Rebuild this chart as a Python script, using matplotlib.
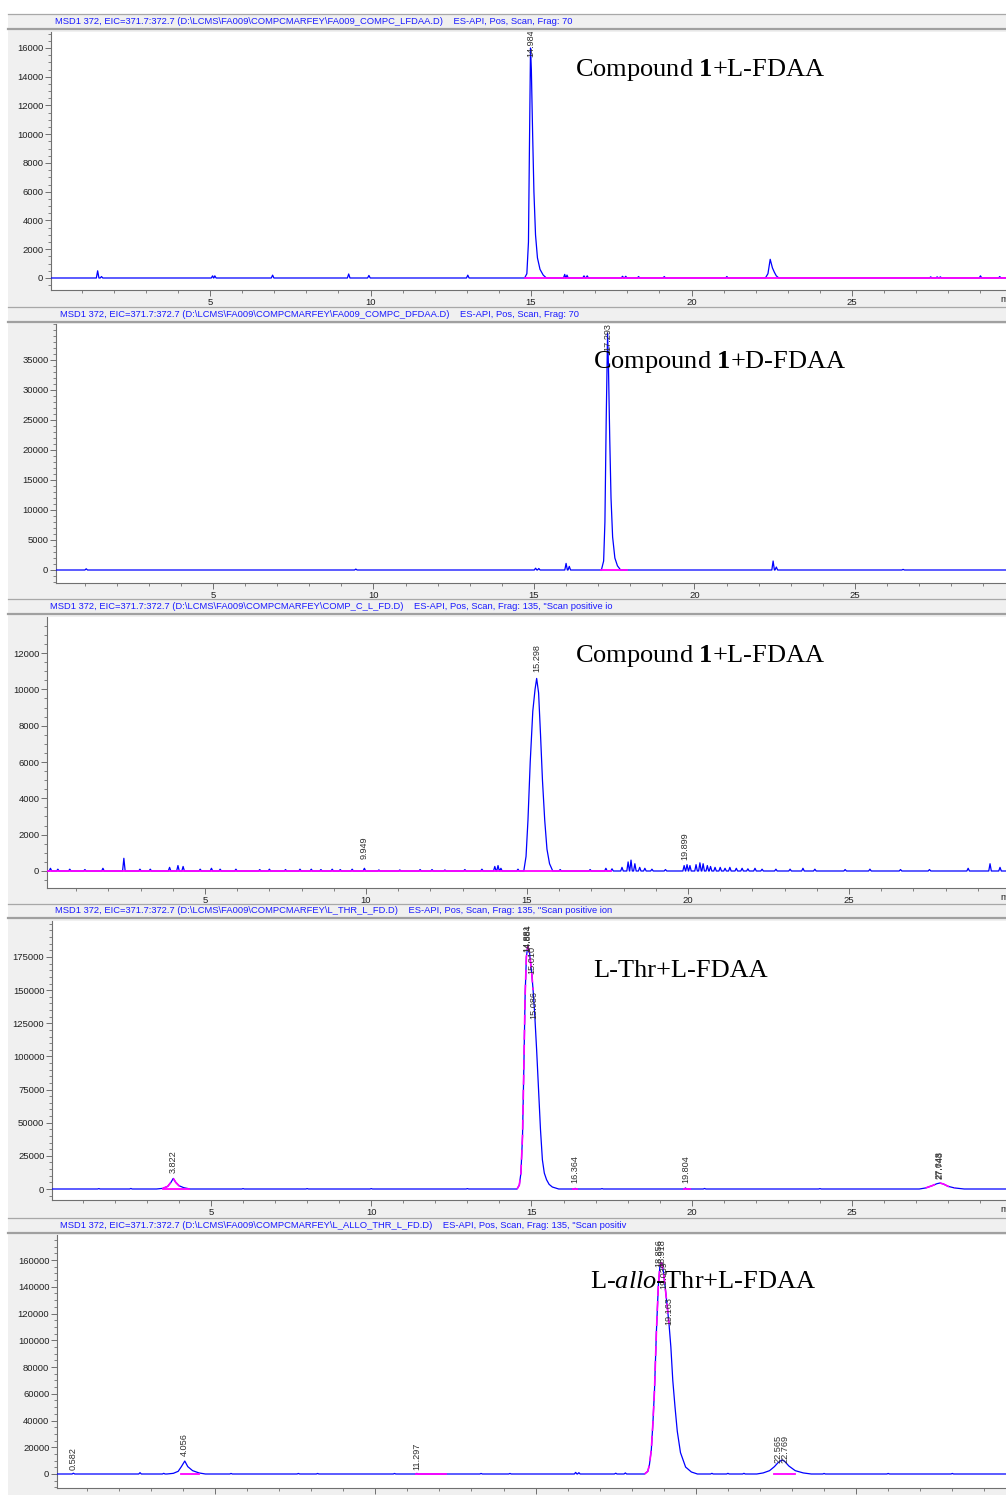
import matplotlib
matplotlib.use("Agg")
import matplotlib.pyplot as plt
from matplotlib.patches import Rectangle
from matplotlib.lines import Line2D
from matplotlib.ticker import MultipleLocator

plt.rcParams['font.family'] = ['Liberation Sans', 'DejaVu Sans']
plt.rcParams['mathtext.fontset'] = 'custom'
plt.rcParams['mathtext.rm'] = 'Liberation Serif'
plt.rcParams['mathtext.bf'] = 'Liberation Serif:bold'
plt.rcParams['mathtext.it'] = 'Liberation Serif:italic'

W, H = 1006, 1495

# ---------------- data ----------------
# panel 1 : compound 1 + L-FDAA
p1_peak_t = [14.80, 14.87, 14.92, 14.95, 14.984, 15.01, 15.05, 15.09, 15.14, 15.20, 15.28, 15.38, 15.48]
p1_peak_y = [0, 300, 2500, 9000, 16000, 14500, 10000, 6000, 3000, 1400, 600, 200, 0]
p1_small_t = [22.30, 22.38, 22.45, 22.52, 22.58, 22.64, 22.72]
p1_small_y = [0, 300, 1300, 700, 400, 150, 0]
p1_spike_t = [1.50, 1.62, 5.08, 5.15, 6.95, 9.32, 9.95, 13.03, 16.05, 16.12, 16.65, 16.75,
              17.85, 17.95, 18.35, 19.15, 21.10, 27.45, 27.65, 27.75, 29.0, 29.6]
p1_spike_h = [500, 100, 150, 150, 200, 280, 180, 200, 250, 200, 150, 150,
              120, 120, 100, 100, 100, 80, 80, 80, 150, 100]
p1_yticks = [0, 2000, 4000, 6000, 8000, 10000, 12000, 14000, 16000]
p1_labels = ["14.984"]
p1_label_t = [14.984]
p1_label_y = [16300]

# panel 2 : compound 1 + D-FDAA
p2_peak_t = [17.10, 17.17, 17.21, 17.25, 17.293, 17.32, 17.36, 17.40, 17.45, 17.52, 17.60, 17.70]
p2_peak_y = [0, 1500, 8000, 25000, 39500, 34000, 22000, 12000, 5500, 2000, 700, 0]
p2_spike_t = [1.05, 9.45, 15.05, 15.15, 16.00, 16.10, 22.45, 22.55, 26.5]
p2_spike_h = [200, 150, 300, 250, 1100, 600, 1500, 500, 100]
p2_yticks = [0, 5000, 10000, 15000, 20000, 25000, 30000, 35000]
p2_labels = ["17.293"]
p2_label_t = [17.293]
p2_label_y = [38800]

# panel 3 : compound 1 + L-FDAA (second run)
p3_peak_t = [14.90, 14.97, 15.03, 15.10, 15.18, 15.25, 15.30, 15.36, 15.42, 15.48, 15.55, 15.62, 15.70, 15.80]
p3_peak_y = [0, 800, 2800, 6000, 8800, 10000, 10600, 9800, 7500, 5000, 2800, 1200, 400, 0]
p3_spike_t = [0.20, 0.43, 0.80, 1.27, 1.83, 2.48, 2.98, 3.30, 3.90, 4.16, 4.32, 4.85, 5.20, 5.47,
              5.96, 6.70, 7.00, 7.50, 7.95, 8.30, 8.60, 8.95, 9.20, 9.57, 9.95, 10.40, 11.05,
              11.68, 12.05, 12.45, 13.07, 13.60, 14.00, 14.10, 14.19, 14.72,
              16.03, 16.96, 17.45, 17.64, 17.95, 18.14, 18.23, 18.35, 18.50, 18.66, 18.88, 19.30,
              19.88, 19.97, 20.06, 20.25, 20.37, 20.47, 20.60, 20.70, 20.84, 21.00, 21.15, 21.30,
              21.50, 21.68, 21.86, 22.08, 22.30, 22.73, 23.17, 23.57, 23.94, 24.88, 25.65, 26.60,
              27.50, 28.70, 29.38, 29.69]
p3_spike_h = [150, 100, 100, 80, 150, 700, 100, 100, 200, 300, 250, 100, 150, 100,
              100, 80, 100, 80, 100, 100, 80, 100, 80, 100, 150, 60, 60,
              80, 80, 60, 80, 100, 250, 300, 150, 100,
              80, 80, 150, 120, 200, 500, 600, 400, 200, 150, 100, 80,
              300, 350, 300, 350, 450, 400, 300, 250, 200, 200, 150, 200,
              150, 150, 120, 150, 100, 100, 100, 150, 100, 80, 100, 80,
              80, 150, 400, 200]
p3_yticks = [0, 2000, 4000, 6000, 8000, 10000, 12000]
p3_labels = ["9.949", "15.298", "19.899"]
p3_label_t = [9.949, 15.298, 19.899]
p3_label_y = [1265, 11720, 1380]

# panel 4 : L-Thr + L-FDAA
p4_peak_t = [14.55, 14.62, 14.67, 14.72, 14.76, 14.80, 14.84, 14.884, 14.94, 15.01, 15.05, 15.10,
             15.16, 15.22, 15.28, 15.34, 15.40, 15.47, 15.55, 15.65, 15.85]
p4_peak_y = [0, 3000, 12000, 40000, 90000, 145000, 175000, 183000, 178000, 162000, 150000, 132000,
             105000, 75000, 45000, 22000, 12000, 7000, 3500, 1500, 0]
p4_a_t = [3.30, 3.50, 3.65, 3.75, 3.822, 3.90, 4.00, 4.15, 4.35]
p4_a_y = [0, 500, 2000, 5000, 8000, 5000, 2500, 1000, 0]
p4_b_t = [27.10, 27.30, 27.50, 27.65, 27.743, 27.85, 28.00, 28.20, 28.50]
p4_b_y = [0, 800, 2500, 4000, 4500, 3800, 2000, 800, 0]
p4_spike_t = [1.50, 2.50, 6.00, 8.00, 10.00, 13.00, 16.364, 17.20, 19.804, 20.40, 24.00]
p4_spike_h = [300, 400, 300, 300, 300, 300, 500, 300, 800, 400, 300]
p4_yticks = [0, 25000, 50000, 75000, 100000, 125000, 150000, 175000]
p4_labels = ["3.822", "14.881", "14.884", "15.010", "15.086", "16.364", "19.804", "27.648", "27.743"]
p4_label_t = [3.822, 14.86, 14.90, 15.01, 15.086, 16.364, 19.804, 27.70, 27.76]
p4_label_y = [20400, 189000, 189000, 173000, 138800, 15000, 15000, 18000, 18000]

# panel 5 : L-allo-Thr + L-FDAA
p5_peak_t = [18.40, 18.50, 18.55, 18.61, 18.66, 18.71, 18.77, 18.83, 18.88, 18.93, 18.99, 19.05,
             19.10, 19.163, 19.22, 19.28, 19.35, 19.42, 19.52, 19.68, 19.86, 20.05]
p5_peak_y = [0, 2000, 6700, 18000, 38000, 63000, 107000, 141000, 156000, 158000, 151000, 138000,
             127000, 112000, 95000, 70000, 50000, 32000, 16000, 5200, 1500, 0]
p5_a_t = [3.50, 3.70, 3.85, 3.95, 4.056, 4.15, 4.30, 4.50, 4.70]
p5_a_y = [0, 500, 2000, 5500, 9700, 5500, 2500, 800, 0]
p5_b_t = [21.90, 22.10, 22.30, 22.45, 22.565, 22.68, 22.769, 22.90, 23.10, 23.35, 23.60]
p5_b_y = [0, 800, 2500, 5500, 8500, 10500, 9500, 6000, 2500, 800, 0]
p5_spike_t = [0.582, 2.66, 3.40, 5.50, 7.60, 8.20, 10.60, 11.297, 13.30, 14.20, 16.25, 16.35,
              17.50, 17.80, 20.50, 21.00, 21.50, 24.00, 26.00, 28.00]
p5_spike_h = [600, 1000, 500, 400, 400, 400, 400, 500, 400, 400, 1200, 1000,
              600, 800, 500, 500, 500, 400, 400, 400]
p5_yticks = [0, 20000, 40000, 60000, 80000, 100000, 120000, 140000, 160000]
p5_labels = ["0.582", "4.056", "11.297", "18.856", "18.918", "19.039", "19.163", "22.565", "22.769"]
p5_label_t = [0.582, 4.056, 11.297, 18.856, 18.93, 18.99, 19.163, 22.56, 22.77]
p5_label_y = [11500, 22000, 13500, 165000, 165000, 149000, 121600, 19000, 19000]

x_ticks = [5, 10, 15, 20, 25]

headers = [
    r'MSD1 372, EIC=371.7:372.7 (D:\LCMS\FA009\COMPCMARFEY\FA009_COMPC_LFDAA.D)    ES-API, Pos, Scan, Frag: 70',
    r'MSD1 372, EIC=371.7:372.7 (D:\LCMS\FA009\COMPCMARFEY\FA009_COMPC_DFDAA.D)    ES-API, Pos, Scan, Frag: 70',
    r'MSD1 372, EIC=371.7:372.7 (D:\LCMS\FA009\COMPCMARFEY\COMP_C_L_FD.D)    ES-API, Pos, Scan, Frag: 135, "Scan positive io',
    r'MSD1 372, EIC=371.7:372.7 (D:\LCMS\FA009\COMPCMARFEY\L_THR_L_FD.D)    ES-API, Pos, Scan, Frag: 135, "Scan positive ion',
    r'MSD1 372, EIC=371.7:372.7 (D:\LCMS\FA009\COMPCMARFEY\L_ALLO_THR_L_FD.D)    ES-API, Pos, Scan, Frag: 135, "Scan positiv',
]
titles = [r"Compound $\mathbf{1}$+L-FDAA", r"Compound $\mathbf{1}$+D-FDAA",
          r"Compound $\mathbf{1}$+L-FDAA", "L-Thr+L-FDAA", r"L-$\mathit{allo}$-Thr+L-FDAA"]


def fx(x):
    return x / W


def fy(y):
    return 1 - y / H


def build_trace(t0, t1, shapes, spike_t, spike_h, w=0.04):
    pts = [(t0, 0.0), (t1, 0.0)]
    for ts, ys in shapes:
        pts += list(zip(ts, ys))
    for t, h in zip(spike_t, spike_h):
        pts += [(t - w, 0.0), (t, h), (t + w, 0.0)]
    pts.sort()
    return [p[0] for p in pts], [p[1] for p in pts]


panels = [
    dict(box=(51, 32, 1010, 290), xlim=(0.047, 29.92), ylim=(-835, 17113), yt=p1_yticks, ymin=500,
         shapes=[(p1_peak_t, p1_peak_y), (p1_small_t, p1_small_y)], spt=p1_spike_t, sph=p1_spike_h,
         labels=(p1_labels, p1_label_t, p1_label_y), head=(14, 29, 55), title=(575, 70),
         magenta=[(14.80, 29.92)], dashed=None, unit=True),
    dict(box=(56, 324, 1010, 583), xlim=(0.109, 29.83), ylim=(-2167, 41000), yt=p2_yticks, ymin=1000,
         shapes=[(p2_peak_t, p2_peak_y)], spt=p2_spike_t, sph=p2_spike_h,
         labels=(p2_labels, p2_label_t, p2_label_y), head=(307, 322, 60), title=(593, 362),
         magenta=[(17.10, 17.90)], dashed=None, unit=False),
    dict(box=(47, 617, 1010, 888), xlim=(0.093, 30.0), ylim=(-936, 13982), yt=p3_yticks, ymin=500,
         shapes=[(p3_peak_t, p3_peak_y)], spt=p3_spike_t, sph=p3_spike_h,
         labels=(p3_labels, p3_label_t, p3_label_y), head=(599, 614, 50), title=(575, 656),
         magenta=[(0.093, 17.6)], dashed=None, unit=True),
    dict(box=(52, 921, 1010, 1200), xlim=(0.039, 29.93), ylim=(-8297, 202150), yt=p4_yticks, ymin=5000,
         shapes=[(p4_peak_t, p4_peak_y), (p4_a_t, p4_a_y), (p4_b_t, p4_b_y)], spt=p4_spike_t, sph=p4_spike_h,
         labels=(p4_labels, p4_label_t, p4_label_y), head=(904, 918, 55), title=(593, 971),
         magenta=[(3.5, 4.3), (16.30, 16.42), (19.75, 19.95)],
         dashed=[(p4_peak_t[:11], p4_peak_y[:11]), (p4_a_t[1:8], p4_a_y[1:8]), (p4_b_t[1:8], p4_b_y[1:8])],
         unit=True),
    dict(box=(57, 1235, 1010, 1488), xlim=(0.070, 29.80), ylim=(-10468, 178700), yt=p5_yticks, ymin=5000,
         shapes=[(p5_peak_t, p5_peak_y), (p5_a_t, p5_a_y), (p5_b_t, p5_b_y)], spt=p5_spike_t, sph=p5_spike_h,
         labels=(p5_labels, p5_label_t, p5_label_y), head=(1218, 1233, 60), title=(590, 1282),
         magenta=[(3.95, 4.50), (11.27, 12.20), (22.45, 23.10)],
         dashed=[(p5_peak_t[:14], p5_peak_y[:14])],
         unit=False),
]

fig = plt.figure(figsize=(W / 100, H / 100), dpi=100)
fig.patch.set_facecolor("white")
fig.add_artist(Rectangle((fx(8), 0), 1 - fx(8), fy(14), transform=fig.transFigure,
                         facecolor="#f0f0f0", edgecolor="none", zorder=0))

for i, p in enumerate(panels):
    l, t, r, b = p["box"]
    ax = fig.add_axes([fx(l), fy(b), fx(r) - fx(l), fy(t) - fy(b)])
    ax.set_facecolor("white")

    tt, yy = build_trace(p["xlim"][0], p["xlim"][1], p["shapes"], p["spt"], p["sph"])
    ax.plot(tt, yy, color="#0000ff", lw=0.9, zorder=3)
    for a, z in p["magenta"]:
        ax.plot([a, z], [0, 0], color="#ff00ff", lw=1.3, zorder=4)
    if p["dashed"]:
        for dt, dy in p["dashed"]:
            ax.plot(dt, dy, color="#ff00ff", lw=1.2, ls=(0, (6, 3)), zorder=4)

    names, lt, ly = p["labels"]
    for s, x, y in zip(names, lt, ly):
        ax.text(x, y, s, rotation=90, ha="center", va="center", fontsize=6.6,
                color="#303030", zorder=5, clip_on=True)

    for side in ("top", "right"):
        ax.spines[side].set_visible(False)
    for side in ("left", "bottom"):
        ax.spines[side].set_color("#707070")
        ax.spines[side].set_linewidth(0.8)
    ax.set_xticks(x_ticks)
    ax.set_xticklabels([str(v) for v in x_ticks])
    ax.xaxis.set_minor_locator(MultipleLocator(1))
    ax.set_yticks(p["yt"])
    ax.set_yticklabels([str(v) for v in p["yt"]])
    ax.yaxis.set_minor_locator(MultipleLocator(p["ymin"]))
    ax.tick_params(which="major", length=4, width=0.7, color="#707070", labelsize=6.8,
                   labelcolor="#202020", pad=1.5)
    ax.tick_params(which="minor", length=2.5, width=0.6, color="#707070")
    ax.set_xlim(*p["xlim"])
    ax.set_ylim(*p["ylim"])

    h0, h1, hx = p["head"]
    fig.add_artist(Line2D([fx(8), 1], [fy(h0), fy(h0)], color="#a8a8a8", lw=0.9))
    fig.add_artist(Line2D([fx(8), 1], [fy(h1), fy(h1)], color="#a0a0a0", lw=1.6))
    fig.text(fx(hx), fy((h0 + h1) / 2), headers[i], fontsize=6.75, color="#1a1aff",
             ha="left", va="center")

    tx, ty = p["title"]
    fig.text(fx(tx), fy(ty), titles[i], fontsize=19, family="Liberation Serif",
             ha="left", va="center", color="black", zorder=10)

    if p["unit"]:
        fig.text(fx(1000), fy(b + 10), "min", fontsize=6.8, color="#202020", ha="left", va="center")

fig.savefig("out.png", dpi=100)
